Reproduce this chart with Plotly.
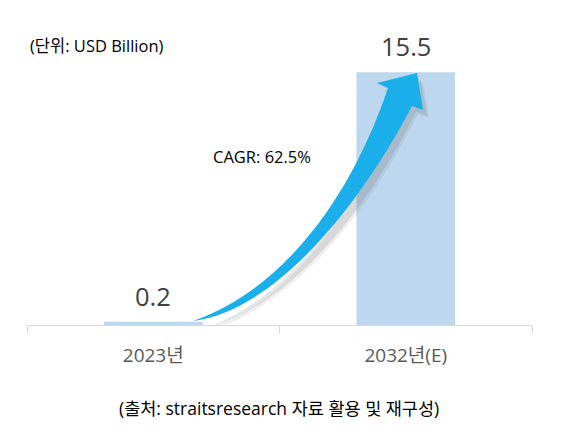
import plotly.graph_objects as go

categories = ["2023년", "2032년(E)"]
values = [0.2, 15.5]
value_labels = ["0.2", "15.5"]
unit_text = "(단위: USD Billion)"
cagr_text = "CAGR: 62.5%"
source_text = "(출처: straitsresearch 자료 활용 및 재구성)"

OFF = 8  # default page body margin
W, H = 561 - OFF, 442 - OFF
L, R, T, B = 19, 29, 56, 117
YMAX = 16.0
pw, ph = W - L - R, H - T - B


def px(xp, yp):
    # reference pixel -> data coordinates (category axis range -0.5..1.5)
    xp, yp = xp - OFF, yp - OFF
    x = (xp - L) / pw * 2 - 0.5
    y = (H - B - yp) / ph * YMAX
    return x, y


def paper(xp, yp):
    xp, yp = xp - OFF, yp - OFF
    return (xp - L) / pw, (H - B - yp) / ph


def path(items, dx=0, dy=0):
    cmds = []
    for item in items:
        if isinstance(item, str):
            cmds.append(item)
        else:
            x, y = px(item[0] + dx, item[1] + dy)
            cmds.append(f"{x:.4f},{y:.4f}")
    return " ".join(cmds)


font = "Open Sans, Noto Sans CJK KR, sans-serif"

fig = go.Figure()
fig.add_trace(go.Bar(
    x=categories, y=values, width=0.39,
    marker=dict(color="#BDD7EE", line=dict(width=0)),
    hoverinfo="skip",
))

for c, v, t in zip(categories, values, value_labels):
    fig.add_annotation(x=c, y=v, text=t, showarrow=False, yanchor="bottom",
                       yshift=7, font=dict(size=25.5, color="#404040", family=font))

arrow_pts = [
    "M", (193, 321),
    "C", (270, 295), (345, 215), (388, 88),
    "L", (377, 83), "L", (417, 73), "L", (423, 110), "L", (412, 106),
    "C", (355, 215), (270, 312), (193, 321), "Z",
]
shadow_pts = [
    "M", (178, 336),
    "C", (270, 318), (352, 225), (394, 96),
    "L", (384, 91), "L", (421, 80), "L", (427, 116), "L", (416, 112),
    "C", (360, 225), (275, 322), (178, 336), "Z",
]
fig.add_shape(type="path", path=path(shadow_pts, 2, 2), xref="x", yref="y",
              fillcolor="rgba(100,100,100,0.10)", line=dict(width=0), layer="above")
fig.add_shape(type="path", path=path(shadow_pts), xref="x", yref="y",
              fillcolor="rgba(100,100,100,0.16)", line=dict(width=0), layer="above")
fig.add_shape(type="path", path=path(arrow_pts), xref="x", yref="y",
              fillcolor="#1AAEEA", line=dict(width=0), layer="above")

x0, y0 = paper(28, 45)
fig.add_annotation(text=unit_text, xref="paper", yref="paper", x=x0, y=y0,
                   xanchor="left", yanchor="middle", showarrow=False,
                   font=dict(size=16.5, color="#000000", family=font))
x0, y0 = paper(262, 156)
fig.add_annotation(text=cagr_text, xref="paper", yref="paper", x=x0, y=y0,
                   xanchor="center", yanchor="middle", showarrow=False,
                   font=dict(size=16.5, color="#000000", family=font))
x0, y0 = paper(279, 408)
fig.add_annotation(text=source_text, xref="paper", yref="paper", x=x0, y=y0,
                   xanchor="center", yanchor="middle", showarrow=False,
                   font=dict(size=17.5, color="#000000", family=font))

fig.update_layout(
    width=W, height=H,
    margin=dict(l=L, r=R, t=T, b=B),
    paper_bgcolor="white", plot_bgcolor="white",
    showlegend=False,
    xaxis=dict(showline=True, linecolor="#D9D9D9", linewidth=1,
               ticks="outside", tickson="boundaries", ticklen=7, tickcolor="#D9D9D9",
               ticklabelstandoff=13,
               tickfont=dict(size=19, color="#595959", family=font),
               showgrid=False, fixedrange=True),
    yaxis=dict(range=[0, YMAX], visible=False, showgrid=False, fixedrange=True),
)

fig.write_html("out.html")
